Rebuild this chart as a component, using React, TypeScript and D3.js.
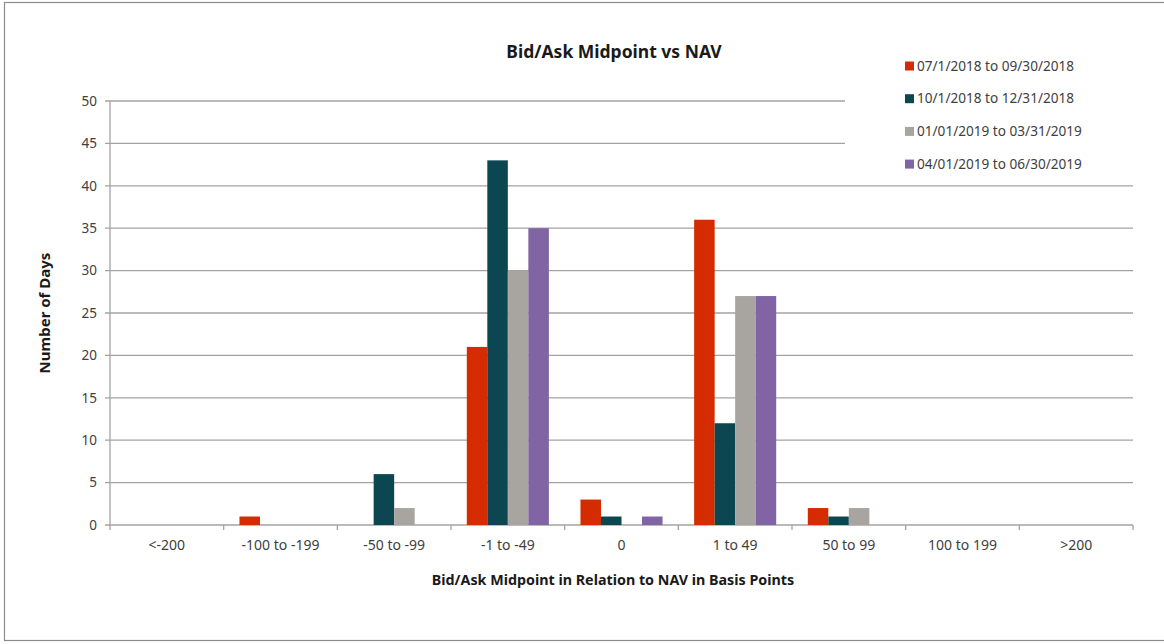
import React from 'react';
import * as d3 from 'd3';

const categories = ['<-200', '-100 to -199', '-50 to -99', '-1 to -49', '0', '1 to 49', '50 to 99', '100 to 199', '>200'];
const seriesNames = ['07/1/2018 to 09/30/2018', '10/1/2018 to 12/31/2018', '01/01/2019 to 03/31/2019', '04/01/2019 to 06/30/2019'];
const seriesColors = ['#d42b00', '#0c4650', '#a8a49f', '#8064a4'];
const q3_2018 = [0, 1, 0, 21, 3, 36, 2, 0, 0];
const q4_2018 = [0, 0, 6, 43, 1, 12, 1, 0, 0];
const q1_2019 = [0, 0, 2, 30, 0, 27, 2, 0, 0];
const q2_2019 = [0, 0, 0, 35, 1, 27, 0, 0, 0];
const seriesValues = [q3_2018, q4_2018, q1_2019, q2_2019];
const yTicks = [0, 5, 10, 15, 20, 25, 30, 35, 40, 45, 50];

const W = 1164;
const H = 644;
const margin = { top: 101, right: 31, bottom: 119, left: 110 };
const font = "'Noto Sans', 'Open Sans', sans-serif";

export default function App() {
  const x = d3.scaleBand<string>().domain(categories).range([margin.left, W - margin.right]).paddingInner(0).paddingOuter(0);
  const x1 = d3.scaleBand<number>().domain(d3.range(seriesNames.length)).range([0, x.bandwidth()]).paddingOuter(0.77).paddingInner(0);
  const y = d3.scaleLinear().domain([0, 50]).range([H - margin.bottom, margin.top]);
  const x0 = margin.left;
  const xEnd = W - margin.right;
  const yBase = y(0);

  return (
    <svg width={W} height={H} style={{ position: 'absolute', left: 0, top: 0, background: '#fff' }}>
      <rect x={4.5} y={2.5} width={W + 10} height={638} fill="#fff" stroke="#8c8c8c" strokeWidth={1.2} />
      {/* gridlines: the top two stop short of the legend */}
      {yTicks.map((t) => (
        <g key={t}>
          <line x1={x0 - 5} x2={t >= 45 ? 845 : xEnd} y1={y(t)} y2={y(t)} stroke="#a3a3a3" strokeWidth={1.3} />
          <text x={x0 - 13} y={y(t)} dy="0.35em" textAnchor="end" fontFamily={font} fontSize={13.5} fill="#404040">{t}</text>
        </g>
      ))}
      <line x1={x0} x2={x0} y1={margin.top} y2={yBase} stroke="#a3a3a3" strokeWidth={1.3} />
      {/* x ticks */}
      {d3.range(categories.length + 1).map((i) => {
        const xx = x0 + i * x.bandwidth();
        return <line key={i} x1={xx} x2={xx} y1={yBase} y2={yBase + 5} stroke="#a3a3a3" strokeWidth={1.3} />;
      })}
      {/* bars */}
      {seriesValues.map((vals, s) => (
        <g key={s} fill={seriesColors[s]}>
          {vals.map((v, i) => v > 0 ? (
            <rect key={i} x={(x(categories[i]) as number) + (x1(s) as number)} y={y(v)} width={x1.bandwidth()} height={yBase - y(v)} />
          ) : null)}
        </g>
      ))}
      {categories.map((c) => (
        <text key={c} x={(x(c) as number) + x.bandwidth() / 2} y={yBase + 25} textAnchor="middle" fontFamily={font} fontSize={14} fill="#404040">{c}</text>
      ))}
      <text x={614} y={58} textAnchor="middle" fontFamily={font} fontSize={17.5} fontWeight="bold" fill="#1a1a1a">Bid/Ask Midpoint vs NAV</text>
      <text x={613} y={585} textAnchor="middle" fontFamily={font} fontSize={14.3} fontWeight="bold" fill="#1a1a1a">Bid/Ask Midpoint in Relation to NAV in Basis Points</text>
      <text transform={`translate(50, ${(margin.top + yBase) / 2}) rotate(-90)`} textAnchor="middle" fontFamily={font} fontSize={15} fontWeight="bold" fill="#1a1a1a">Number of Days</text>
      {/* legend */}
      {seriesNames.map((n, i) => (
        <g key={n} transform={`translate(905, ${66 + i * 32.7})`}>
          <rect x={0} y={-4.5} width={9} height={9} fill={seriesColors[i]} />
          <text x={12} y={0} dy="0.35em" fontFamily={font} fontSize={13.6} fill="#404040">{n}</text>
        </g>
      ))}
    </svg>
  );
}
